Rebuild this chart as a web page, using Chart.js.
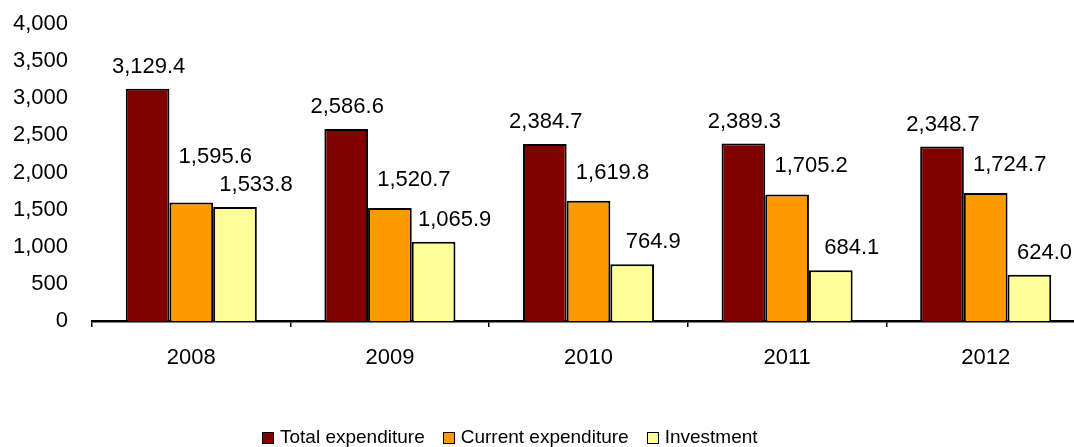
<!DOCTYPE html>
<html>
<head>
<meta charset="utf-8">
<script src="https://cdn.jsdelivr.net/npm/chart.js@4"></script>
<style>
  html, body { margin: 0; padding: 0; background: #fff; overflow: hidden; }
  #wrap { position: relative; width: 1074px; height: 447px; overflow: hidden; }
  #chart { display: block; }
  #legend {
    position: absolute; left: 262px; top: 427px;
    font: 19px 'Liberation Sans', Arial, sans-serif; color: #000;
    white-space: nowrap; line-height: 20px;
  }
  .item { display: inline-block; margin-right: 18px; }
  .box {
    display: inline-block; width: 10px; height: 10px; border: 1px solid #000;
    margin-right: 6px; vertical-align: -1px;
  }
</style>
</head>
<body>
<div id="wrap">
<canvas id="chart" width="1086" height="447"></canvas>
<div id="legend"></div>
</div>
<script>
// years on the x axis
const years = ["2008", "2009", "2010", "2011", "2012"];
// values
const totalExp = [3129.4, 2586.6, 2384.7, 2389.3, 2348.7];
const currentExp = [1595.6, 1520.7, 1619.8, 1705.2, 1724.7];
const investment = [1533.8, 1065.9, 764.9, 684.1, 624.0];
const seriesNames = ["Total expenditure", "Current expenditure", "Investment"];
const yTicks = [0, 500, 1000, 1500, 2000, 2500, 3000, 3500, 4000];

const fontFamily = "'Liberation Sans', Arial, sans-serif";
const visibleWidth = 1074;
Chart.defaults.color = '#000';
Chart.defaults.font.family = fontFamily;

// label nudges per series (the labels in the original sit a bit right of the bars)
const labelNudge = [{dx: 1, dy: -22}, {dx: 24, dy: -28}, {dx: 21, dy: -22}];

function fmt(v) {
    return v.toLocaleString('en-US', {minimumFractionDigits: 1, maximumFractionDigits: 1});
}

const valueLabels = {
    id: 'valueLabels',
    afterDatasetsDraw(chart) {
        const ctx = chart.ctx;
        ctx.save();
        ctx.font = "22px " + fontFamily;
        ctx.fillStyle = '#000';
        ctx.textAlign = 'center';
        ctx.textBaseline = 'middle';
        const n = chart.data.labels.length;
        for (let j = 0; j < n; j++) {
            // work out label spots for the group, last series first
            const spots = [];
            for (let i = chart.data.datasets.length - 1; i >= 0; i--) {
                const bar = chart.getDatasetMeta(i).data[j];
                const text = fmt(chart.data.datasets[i].data[j]);
                const w = ctx.measureText(text).width;
                let x = bar.x + labelNudge[i].dx;
                let y = bar.y + labelNudge[i].dy;
                if (x + w / 2 > visibleWidth - 2) x = visibleWidth - 2 - w / 2;
                // push up if it runs into the label to its right
                spots.forEach((s) => {
                    if (Math.abs(s.x - x) < (s.w + w) / 2 && Math.abs(s.y - y) < 26) y = s.y - 28;
                });
                spots.push({x, y, w});
                ctx.fillText(text, x, y);
            }
        }
        ctx.restore();
    }
};

const ctx = document.getElementById('chart');
const myChart = new Chart(ctx, {
    type: 'bar',
    data: {
        labels: years,
        datasets: [{
            label: seriesNames[0],
            data: totalExp,
            backgroundColor: '#800000',
            borderColor: '#000',
            borderWidth: 2
        }, {
            label: seriesNames[1],
            data: currentExp,
            backgroundColor: '#FF9900',
            borderColor: '#000',
            borderWidth: 2
        }, {
            label: seriesNames[2],
            data: investment,
            backgroundColor: '#FFFF99',
            borderColor: '#000',
            borderWidth: 2
        }]
    },
    options: {
        responsive: false,
        animation: false,
        layout: { padding: { top: 0, left: 0, right: 1, bottom: 0 } },
        datasets: {
            bar: { categoryPercentage: 0.66, barPercentage: 1 }
        },
        plugins: {
            tooltip: { enabled: false },
            legend: { display: false }
        },
        scales: {
            x: {
                grid: {
                    display: true,
                    drawOnChartArea: false,
                    drawTicks: true,
                    tickLength: 6,
                    color: '#000',
                    lineWidth: 1.5,
                    offset: true
                },
                border: { display: true, color: '#000', width: 2.5 },
                ticks: { font: { size: 22 }, padding: 18 },
                afterFit(scale) { scale.height = 126; }
            },
            y: {
                min: 0,
                max: 4000,
                afterBuildTicks(scale) { scale.ticks = yTicks.map(v => ({value: v})); },
                grid: { display: false, drawTicks: false },
                border: { display: false },
                ticks: {
                    font: { size: 22 },
                    padding: 24,
                    callback: (v) => v.toLocaleString('en-US')
                },
                afterFit(scale) {
                    scale.width = 92;
                    // keep the top of the plot where the original has it
                    scale.paddingTop = 24;
                    scale.paddingBottom = 0;
                }
            }
        }
    },
    plugins: [valueLabels]
});

// legend as html, same colours as the datasets
const legendEl = document.getElementById('legend');
myChart.data.datasets.forEach((ds) => {
    const item = document.createElement('span');
    item.className = 'item';
    const box = document.createElement('span');
    box.className = 'box';
    box.style.background = ds.backgroundColor;
    item.appendChild(box);
    item.appendChild(document.createTextNode(ds.label));
    legendEl.appendChild(item);
});
</script>
</body>
</html>
